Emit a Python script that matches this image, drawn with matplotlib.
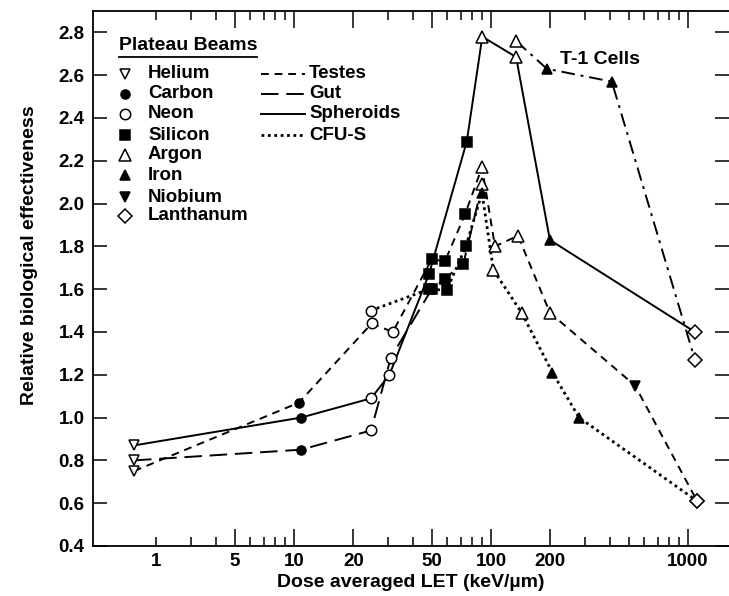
import matplotlib
matplotlib.use("Agg")
import matplotlib.pyplot as plt
from matplotlib.lines import Line2D
from matplotlib.ticker import FixedLocator, FixedFormatter, NullFormatter

plt.rcParams['font.family'] = ['Liberation Sans', 'DejaVu Sans']
plt.rcParams['font.weight'] = 'bold'

# --- data (LET in keV/um, RBE) ---
spheroids_x = [1.54, 10.85, 24.6, 30.5, 48.4, 75.3, 90.3, 134, 199, 1084]
spheroids_y = [0.87, 1.00, 1.09, 1.20, 1.67, 2.29, 2.78, 2.685, 1.83, 1.40]
spheroids_el = ['He', 'C', 'Ne', 'Ne', 'Si', 'Si', 'Ar', 'Ar', 'Fe', 'La']

gut_x = [1.54, 10.85, 24.6, 31.0, 50.0, 58.3, 72.4, 90.3]
gut_y = [0.80, 0.85, 0.94, 1.28, 1.60, 1.65, 1.72, 2.09]
gut_el = ['He', 'C', 'Ne', 'Ne', 'Si', 'Si', 'Si', 'Ar']

testes_x = [1.54, 10.6, 24.8, 31.7, 50.0, 58.3, 73.8, 90.0, 104.7, 137, 199, 538, 1112]
testes_y = [0.75, 1.07, 1.44, 1.40, 1.74, 1.73, 1.95, 2.17, 1.80, 1.85, 1.49, 1.15, 0.61]
testes_el = ['He', 'C', 'Ne', 'Ne', 'Si', 'Si', 'Si', 'Ar', 'Ar', 'Ar', 'Ar', 'Nb', 'La']

cfus_x = [24.5, 48.4, 59.5, 74.5, 90.0, 102.8, 143, 205, 280, 1112]
cfus_y = [1.50, 1.60, 1.595, 1.80, 2.05, 1.69, 1.49, 1.21, 1.00, 0.61]
cfus_el = ['Ne', 'Si', 'Si', 'Si', 'Fe', 'Ar', 'Ar', 'Fe', 'Fe', 'La']

t1_x = [134, 192, 410, 1084]
t1_y = [2.76, 2.63, 2.57, 1.27]
t1_el = ['Ar', 'Fe', 'Fe', 'La']

beam_names = ['Helium', 'Carbon', 'Neon', 'Silicon', 'Argon', 'Iron', 'Niobium', 'Lanthanum']
beam_keys = ['He', 'C', 'Ne', 'Si', 'Ar', 'Fe', 'Nb', 'La']
# marker shape and fill per beam
beam_marker = {'He': ('v', 'white'), 'C': ('o', 'black'), 'Ne': ('o', 'white'),
               'Si': ('s', 'black'), 'Ar': ('^', 'white'), 'Fe': ('^', 'black'),
               'Nb': ('v', 'black'), 'La': ('D', 'white')}
beam_size = {'He': 7.5, 'C': 6.5, 'Ne': 7.5, 'Si': 7, 'Ar': 8, 'Fe': 7.5, 'Nb': 7.5, 'La': 7}

tissue_names = ['Testes', 'Gut', 'Spheroids', 'CFU-S']
tissue_styles = [(0, (4, 3)), (0, (9, 4)), '-', (0, (1, 1.3))]

W, H = 729, 596
fig = plt.figure(figsize=(W / 100, H / 100), dpi=100)
left, right, top, bottom = 93, 729, 11, 546
ax = fig.add_axes([left / W, 1 - bottom / H, (right - left) / W, (bottom - top) / H])

series = [
    (testes_x, testes_y, testes_el, tissue_styles[0]),
    (gut_x, gut_y, gut_el, tissue_styles[1]),
    (spheroids_x, spheroids_y, spheroids_el, tissue_styles[2]),
    (cfus_x, cfus_y, cfus_el, tissue_styles[3]),
    (t1_x, t1_y, t1_el, (0, (7, 3, 1.5, 3))),
]

for xs, ys, els, ls in series:
    lw = 2.0 if ls == tissue_styles[3] else 1.4
    ax.plot(xs, ys, color='black', linestyle=ls, linewidth=lw, zorder=2)
    for xv, yv, el in zip(xs, ys, els):
        m, fc = beam_marker[el]
        ax.plot([xv], [yv], linestyle='none', marker=m, markersize=beam_size[el],
                markerfacecolor=fc, markeredgecolor='black', markeredgewidth=1.1, zorder=3)

ax.set_xscale('log')
ax.set_xlim(0.954, 1614)
ax.set_ylim(0.4, 2.9)

major_x = [2, 5, 10, 20, 50, 100, 200, 1000]
major_lbl = ['1', '5', '10', '20', '50', '100', '200', '1000']
ax.xaxis.set_major_locator(FixedLocator(major_x))
ax.xaxis.set_major_formatter(FixedFormatter(major_lbl))
minor_x = [3, 4, 6, 7, 8, 9, 30, 40, 60, 70, 80, 90, 300, 400, 500, 600, 700, 800, 900]
ax.xaxis.set_minor_locator(FixedLocator(minor_x))
ax.xaxis.set_minor_formatter(NullFormatter())

yt = [0.4, 0.6, 0.8, 1.0, 1.2, 1.4, 1.6, 1.8, 2.0, 2.2, 2.4, 2.6, 2.8]
ax.set_yticks(yt)
ax.set_yticklabels(['%.1f' % v for v in yt])

ax.tick_params(axis='both', which='both', direction='in', top=True, right=True, width=1.1)
ax.tick_params(axis='x', which='major', length=12, labelsize=13.5, pad=5)
ax.tick_params(axis='x', which='minor', length=6.5)
ax.tick_params(axis='y', which='major', length=10, labelsize=13.5, pad=6)
# the "1" label sits on a short tick in the original
ax.xaxis.get_major_ticks()[0].tick1line.set_markersize(6.5)
ax.xaxis.get_major_ticks()[0].tick2line.set_markersize(6.5)

for s in ax.spines.values():
    s.set_linewidth(1.3)
ax.spines['right'].set_visible(False)

ax.set_xlabel('Dose averaged LET (keV/\u00b5m)', fontsize=14, fontweight='bold', labelpad=3)
ax.set_ylabel('Relative biological effectiveness', fontsize=14, fontweight='bold')
ax.yaxis.set_label_coords(-0.087, 0.544)


def fx(px):
    return px / W


def fy(py):
    return 1 - py / H


# legend block drawn in figure pixel coordinates
fig.text(fx(119), fy(46), 'Plateau Beams', fontsize=14, fontweight='bold', va='center', ha='left')
fig.add_artist(Line2D([fx(119), fx(257)], [fy(57), fy(57)], color='black', linewidth=1.3))
row_y = [74, 94, 114, 135, 155, 175, 197, 216]
for key, name, ry in zip(beam_keys, beam_names, row_y):
    m, fc = beam_marker[key]
    fig.add_artist(Line2D([fx(125)], [fy(ry)], linestyle='none', marker=m, markersize=beam_size[key],
                          markerfacecolor=fc, markeredgecolor='black', markeredgewidth=1.1))
    fig.text(fx(148), fy(ry), name, fontsize=13.5, fontweight='bold', va='center', ha='left')

for name, ls, ry in zip(tissue_names, tissue_styles, row_y[:4]):
    lw = 2.0 if ls == tissue_styles[3] else 1.4
    fig.add_artist(Line2D([fx(261), fx(305)], [fy(ry), fy(ry)], color='black', linestyle=ls, linewidth=lw))
    fig.text(fx(309), fy(ry), name, fontsize=13.5, fontweight='bold', va='center', ha='left')

fig.text(fx(560), fy(59), 'T-1 Cells', fontsize=14, fontweight='bold', va='center', ha='left')

fig.savefig('out.png', dpi=100)
